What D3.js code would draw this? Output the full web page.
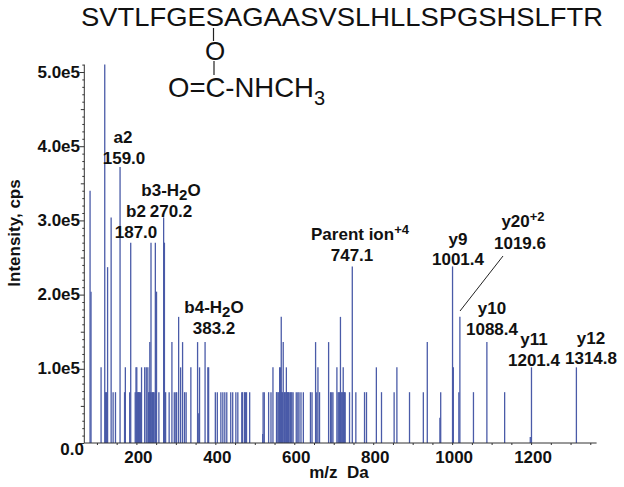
<!DOCTYPE html>
<html><head><meta charset="utf-8">
<script src="https://cdnjs.cloudflare.com/ajax/libs/d3/7.8.5/d3.min.js"></script>
<style>html,body{margin:0;background:#fff}svg{display:block}text{font-family:"Liberation Sans",Arial,sans-serif;fill:#111}
.b{font-weight:bold;font-size:17px}</style></head><body><svg id="c" width="624" height="487"></svg>
<script>
const peaksTop=[[119.8,510000],[158.6,372000],[82.6,340000],[136,304000],[269,304000],[127,237000],[185.6,270000],[237,270000],[248,270000],[271,270000],[85,204000],[251,204000],[747,238000],[1001,238000]];
const peaksMid=[[307,170000],[567,170000],[717,170000],[1019.6,170000],[234,136000],[290,136000],[317,136000],[355,136000],[374,136000],[572,136000],[654,136000],[687,136000],[937,136000],[1088,136000]];
const peaksLow=[[110.5,102000],[172,102000],[199,102000],[201,102000],[213,102000],[221,102000],[225,102000],[229,102000],[312,102000],[338,102000],[360,102000],[381,102000],[383,102000],[546,102000],[563,102000],[565,102000],[580,102000],[660,102000],[708,102000],[724,102000],[808,102000],[860,102000],[1003,102000],[1201,102000],[1314.8,102000]];
const peaksBase=[122,124,141,147,170,183,197,200,203,205,206,208,210,231,233,236,239,241,243,245,257,274,283,296,300,302,322,326,400,405,414,419,424,429,439,444,452,457,467,469,474,476,479,487,521,524,535,541,555,556,559,561,568,570,575,577,579,581,583,585,587,590,592,594,597,605,609,612,617,623,641,645,657,664,692,695,698,711,713,715,719,721,723,725,727,729,740,756,778,783,821,853,892,927,971,1017,1054,1133];
const peaksSmall=[[358,40000],[969,34000],[520,12000],[1198,8000]];
const baseIntensity=68500;
const yTicks=[0,100000,200000,300000,400000,500000];
const yLabels=["0.0","1.0e5","2.0e5","3.0e5","4.0e5","5.0e5"];
const xTicks=[200,400,600,800,1000,1200];
const sequence="SVTLFGESAGAASVSLHLLSPGSHSLFTR";

const peaks=[...peaksTop,...peaksMid,...peaksLow,...peaksBase.map(m=>[m,baseIntensity]),...peaksSmall];
const svg=d3.select("#c");
const x=d3.scaleLinear().domain([68,1366]).range([84.3,596.6]);
const y=d3.scaleLinear().domain([0,510000]).range([443,64.6]);

svg.append("g").selectAll("line").data(peaks).join("line")
 .attr("x1",d=>x(d[0])).attr("x2",d=>x(d[0])).attr("y1",y(0)).attr("y2",d=>y(d[1]))
 .attr("stroke","#4a5ba8").attr("stroke-width",1.3);

const gx=svg.append("g").attr("transform",`translate(0,${y(0)})`);
gx.call(d3.axisBottom(x).tickValues(d3.range(100,1351,50)).tickSize(2).tickFormat(""));
gx.selectAll("path,line").attr("stroke","#333");
gx.select(".domain").attr("d",`M${x(68)},0H${x(1366)}`);
const gy=svg.append("g").attr("transform",`translate(${x(68)},0)`);
gy.call(d3.axisLeft(y).tickValues(d3.range(0,510001,10000)).tickSize(2).tickFormat(""));
gy.selectAll("path,line").attr("stroke","#333");
gy.select(".domain").attr("d",`M0,${y(0)}V${y(510000)}`);
gy.selectAll(".tick line").attr("x2",d=>d%100000===0?-5:d%50000===0?-3.5:-2);

svg.append("g").selectAll("text").data(yTicks).join("text").attr("class","b")
 .attr("x",d=>d===0?84:80).attr("y",d=>y(d)+(d===0?12:5.5)).attr("text-anchor","end").text((d,i)=>yLabels[i]);
svg.append("g").selectAll("text").data(xTicks).join("text").attr("class","b")
 .attr("x",d=>x(d)+2).attr("y",463).attr("text-anchor","middle").text(d=>d);
svg.append("text").attr("class","b").attr("transform","translate(20,233) rotate(-90)").attr("text-anchor","middle").text("Intensity, cps");
svg.append("text").attr("class","b").attr("x",339).attr("y",478).attr("text-anchor","middle").style("white-space","pre").text("m/z  Da");

// annotations: [x, y, text]; parts after '_' are subscript, after '^' superscript
const annotations=[
 [123,143,"a2"],[124,164,"159.0"],[136,217,"b2"],[136,238,"187.0"],[171,196,"b3-H_2_O"],[171,217,"270.2"],
 [214,313,"b4-H_2_O"],[214,334,"383.2"],[360,240,"Parent ion^+4"],[352,261,"747.1"],[458,245,"y9"],[458,265,"1001.4"],
 [523,227,"y20^+2"],[520,249,"1019.6"],[492,314,"y10"],[492,335,"1088.4"],[534,345,"y11"],[534,366,"1201.4"],[591,344,"y12"],[591,364,"1314.8"]];
annotations.forEach(([ax,ay,t])=>{
 const el=svg.append("text").attr("class","b").attr("x",ax).attr("y",ay).attr("text-anchor","middle");
 if(t.includes("_")){const p=t.split("_");el.append("tspan").text(p[0]);el.append("tspan").attr("dy",4).style("font-size","15px").text(p[1]);el.append("tspan").attr("dy",-4).text(p[2]);}
 else if(t.includes("^")){const p=t.split("^");el.append("tspan").text(p[0]);el.append("tspan").attr("dy",-6).style("font-size","13px").text(p[1]);}
 else el.text(t);
});
svg.append("line").attr("x1",503).attr("y1",256).attr("x2",460).attr("y2",311).attr("stroke","#222").attr("stroke-width",1);

// sequence and modification
const big=(tx,ty,s,a="start",fs=25.5)=>svg.append("text").attr("x",tx).attr("y",ty).attr("text-anchor",a).style("font-size",fs+"px").text(s);
big(81,26,sequence).attr("textLength",522).attr("lengthAdjust","spacingAndGlyphs");
big(215,60,"O","middle",26);
const f=big(168,97,"O=C-NHCH","start",27.5);
f.append("tspan").attr("dy",8).style("font-size","20px").text("3");
svg.append("line").attr("x1",213.5).attr("x2",213.5).attr("y1",28).attr("y2",41).attr("stroke","#222").attr("stroke-width",1.2);
svg.append("line").attr("x1",214).attr("x2",214).attr("y1",61).attr("y2",75).attr("stroke","#222").attr("stroke-width",1.2);
</script></body></html>
